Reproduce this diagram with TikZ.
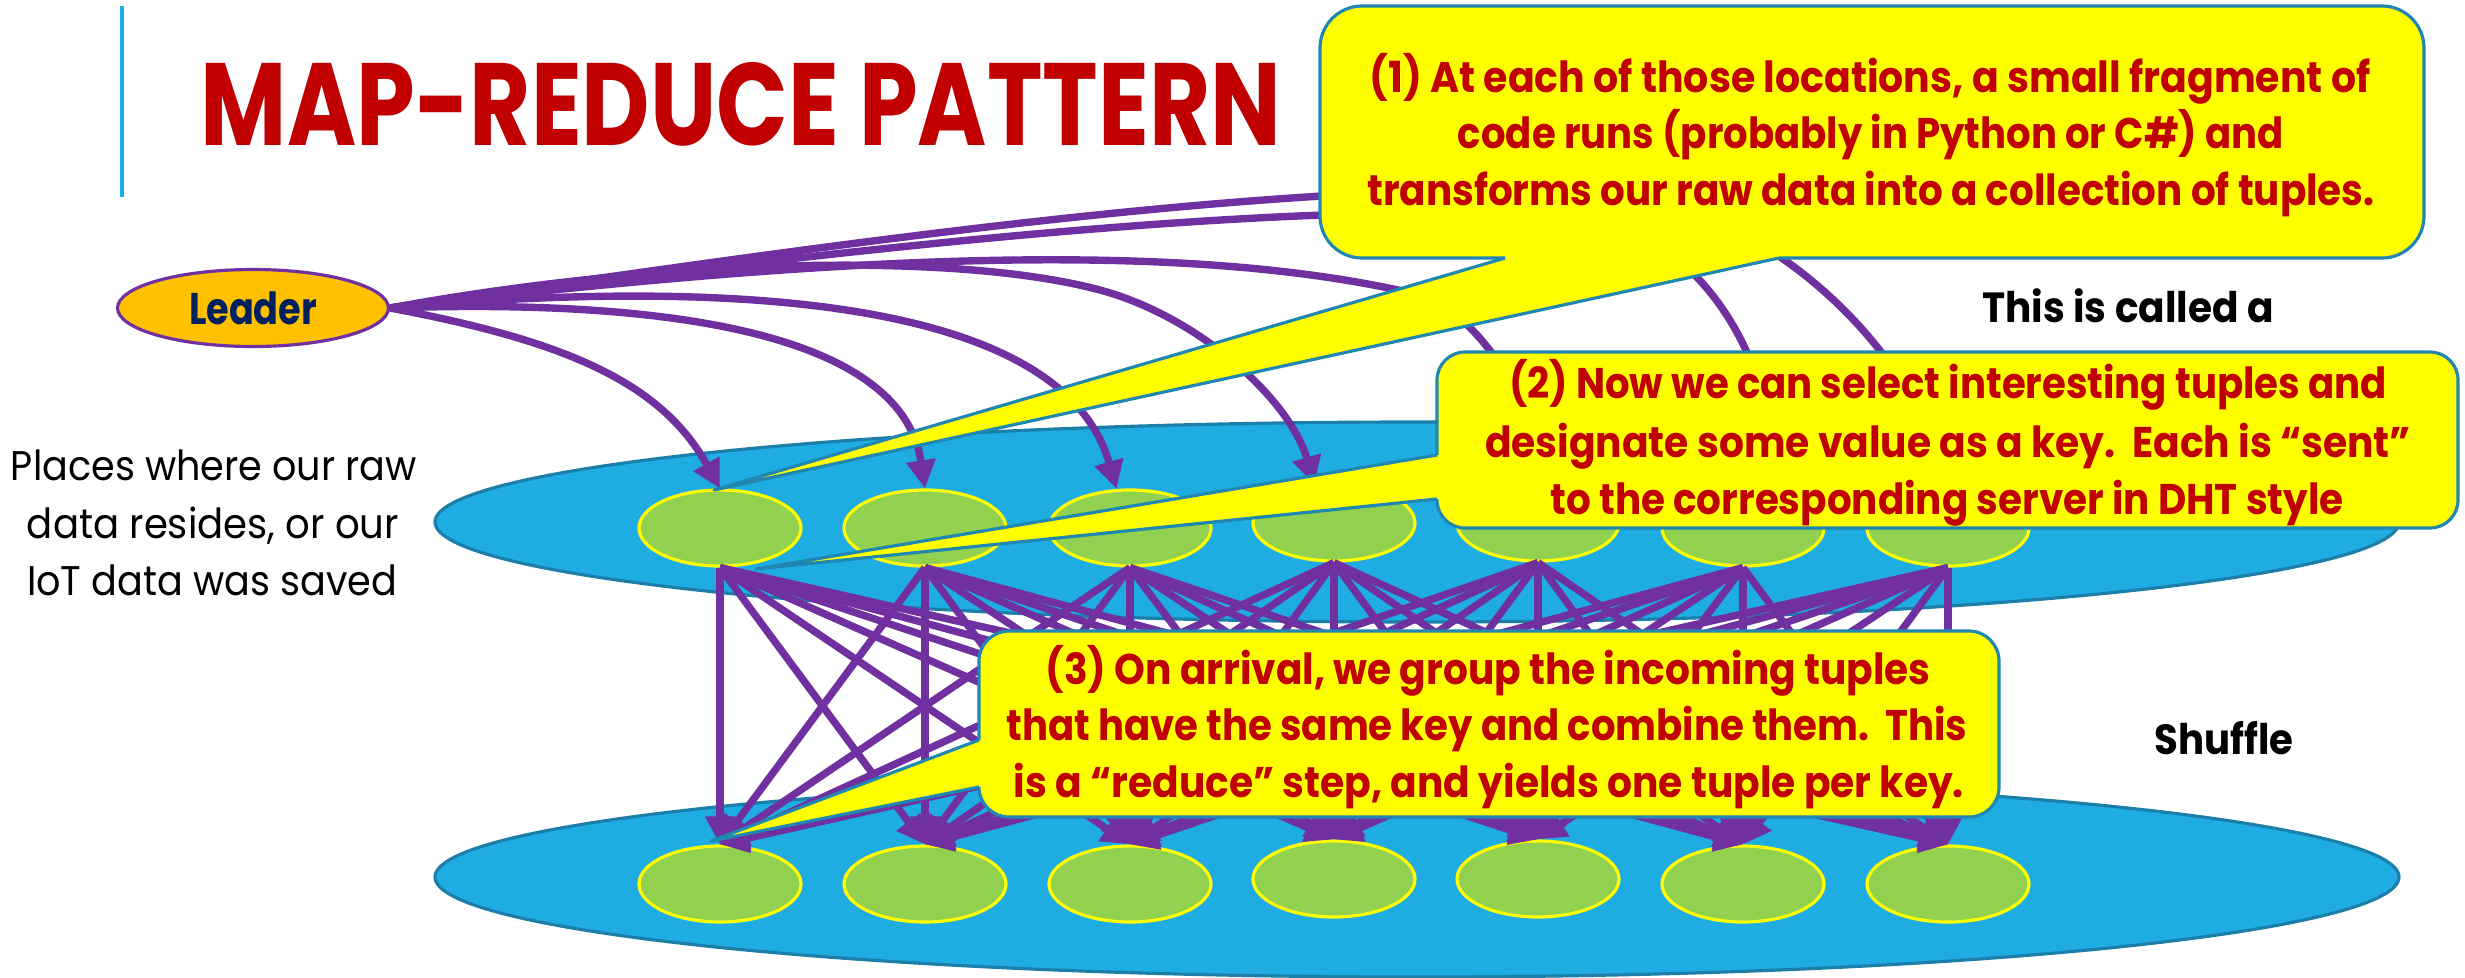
\documentclass[tikz,border=0pt]{standalone}
\usepackage{fontspec}
\setmainfont{Poppins}
\usepackage{graphicx}
\usetikzlibrary{shapes.geometric,arrows.meta}
\definecolor{ttl}{HTML}{C00000}
\definecolor{purp}{HTML}{7030A0}
\definecolor{gold}{HTML}{FFC000}
\definecolor{navy}{HTML}{002060}
\definecolor{sky}{HTML}{1FACE2}
\definecolor{skyedge}{HTML}{1B7FAA}
\definecolor{leaf}{HTML}{92D050}
\definecolor{calfill}{HTML}{FFFF00}
\definecolor{caledge}{HTML}{1F87B0}
\definecolor{rulecol}{HTML}{1CADE4}
\newcommand\fitw[2]{\resizebox{#1}{\height}{#2}}
\begin{document}
\begin{tikzpicture}[x=0.1mm,y=-0.1mm,
  pool/.style={ellipse, draw=skyedge, fill=sky, line width=0.9pt, minimum width=196.4mm, minimum height=20mm, inner sep=0pt},
  srv/.style={ellipse, draw=calfill, fill=leaf, line width=0.9pt, minimum width=16.2mm, minimum height=7.6mm, inner sep=0pt},
  flow/.style={draw=purp, line width=2.1pt, -{Triangle[length=8pt,width=8pt]}},
  caloutline/.style={draw=caledge, line width=0.9pt, line join=round},
  caltext/.style={text=ttl, font=\fontsize{12.2pt}{14pt}\selectfont\bfseries, inner sep=0pt, anchor=base},
  plain/.style={text=black, font=\fontsize{11.8pt}{14pt}\selectfont, inner sep=0pt, anchor=base},
  bnote/.style={text=black, font=\fontsize{12pt}{14pt}\selectfont\bfseries, inner sep=0pt, anchor=base}
]
\useasboundingbox (0,0) rectangle (2465,977);
\fill[white] (0,0) rectangle (2465,977);

% left rule and title
\coordinate (r1) at (122,6);
\coordinate (r2) at (122,197);
\draw[rulecol, line width=1.1pt] (r1) -- (r2);
\node[anchor=base, inner sep=0pt, text=ttl, font=\fontsize{33.3pt}{36pt}\selectfont\bfseries] (title) at (741,145) {\fitw{108mm}{MAP-REDUCE PATTERN}};

% pools
\node[pool] (top) at (1417,522) {};
\node[pool] (bot) at (1417,877) {};

% servers
\foreach \i/\x/\yt/\yb in {1/720/528/884, 2/925/528/884, 3/1130/528/884, 4/1334/523/879, 5/1538/523/879, 6/1743/528/884, 7/1948/528/884} {
  \node[srv] (t\i) at (\x,\yt) {};
  \node[srv] (b\i) at (\x,\yb) {};
}

% shuffle
\foreach \i in {1,...,7} {
  \foreach \j in {1,...,7} {
    \draw[flow] (t\i.south) -- (b\j.north);
  }
}

% leader
\node[ellipse, draw=purp, fill=gold, line width=0.9pt, minimum width=27.1mm, minimum height=7.7mm, inner sep=0pt, font=\fontsize{12.6pt}{14pt}\selectfont\bfseries, text=navy] (leader) at (253,308) {\fitw{12.8mm}{Leader}};

\draw[flow] (leader.east) .. controls (560,340) and (660,380) .. (t1.north);
\draw[flow] (leader.east) .. controls (620,300) and (900,320) .. (t2.north);
\draw[flow] (leader.east) .. controls (700,280) and (1060,290) .. (t3.109);
\draw[flow] (leader.east) .. controls (650,260) and (950,250) .. (1100,290) .. controls (1200,317) and (1290,400) .. (t4.117);
\draw[flow] (leader.east) .. controls (800,260) and (1170,235) .. (1420,295) .. controls (1480,315) and (1530,400) .. (t5.north);
\draw[flow] (leader.east) .. controls (800,255) and (1250,200) .. (1560,215) .. controls (1700,220) and (1770,360) .. (t6.48);
\draw[flow] (leader.east) .. controls (800,250) and (1250,180) .. (1600,190) .. controls (1750,200) and (1900,330) .. (t7.north);

% side texts
\node[plain] (pl1) at (214,480) {\fitw{40.6mm}{Places where our raw}};
\node[plain] (pl2) at (213,538) {\fitw{37.2mm}{data resides, or our}};
\node[plain] (pl3) at (212,595) {\fitw{37.0mm}{IoT data was saved}};
\node[bnote] (called) at (2128,322) {\fitw{29.1mm}{This is called a}};
\node[bnote] (shuffle) at (2224,754) {\fitw{13.9mm}{Shuffle}};

% callout 1
\coordinate (p1) at (714,490);
\fill[calfill, rounded corners=4.2mm] (1320,6) rectangle (2424,258);
\fill[calfill] (1505,245) -- (1505,258) -- (p1) -- (1779,258) -- (1779,245) -- cycle;
\draw[caloutline, rounded corners=4.2mm] (1779,258) -- (2424,258) -- (2424,6) -- (1320,6) -- (1320,258) -- (1505,258);
\draw[caloutline] (1505,258) -- (p1) -- (1779,258);
\node[caltext] (c1a) at (1870,92) {\fitw{100.1mm}{(1) At each of those locations, a small fragment of}};
\node[caltext] (c1b) at (1871,148) {\fitw{82.6mm}{code runs (probably in Python or C\#) and}};
\node[caltext] (c1c) at (1871,205) {\fitw{100.7mm}{transforms our raw data into a collection of tuples.}};

% callout 2
\coordinate (p2) at (756,569);
\fill[calfill, rounded corners=2.8mm] (1437,352) rectangle (2458,528);
\fill[calfill] (1447,455) -- (1437,455) -- (p2) -- (1437,499) -- (1447,499) -- cycle;
\draw[caloutline, rounded corners=2.8mm] (1437,499) -- (1437,528) -- (2458,528) -- (2458,352) -- (1437,352) -- (1437,455);
\draw[caloutline] (1437,455) -- (p2) -- (1437,499);
\node[caltext] (c2a) at (1948,398) {\fitw{87.8mm}{(2) Now we can select interesting tuples and}};
\node[caltext] (c2b) at (1948,457) {\fitw{92.6mm}{designate some value as a key.\ \ Each is “sent”}};
\node[caltext] (c2c) at (1947,514) {\fitw{79.3mm}{to the corresponding server in DHT style}};

% callout 3
\coordinate (p3) at (711,841);
\fill[calfill, rounded corners=3mm] (979,631) rectangle (1999,817);
\fill[calfill] (989,740) -- (979,740) -- (p3) -- (979,787) -- (989,787) -- cycle;
\draw[caloutline, rounded corners=3mm] (979,787) -- (979,817) -- (1999,817) -- (1999,631) -- (979,631) -- (979,740);
\draw[caloutline] (979,740) -- (p3) -- (979,787);
\node[caltext] (c3a) at (1488,684) {\fitw{88.5mm}{(3) On arrival, we group the incoming tuples}};
\node[caltext] (c3b) at (1487,740) {\fitw{96.1mm}{that have the same key and combine them.\ \ This}};
\node[caltext] (c3c) at (1489,797) {\fitw{95.0mm}{is a “reduce” step, and yields one tuple per key.}};
\end{tikzpicture}
\end{document}
